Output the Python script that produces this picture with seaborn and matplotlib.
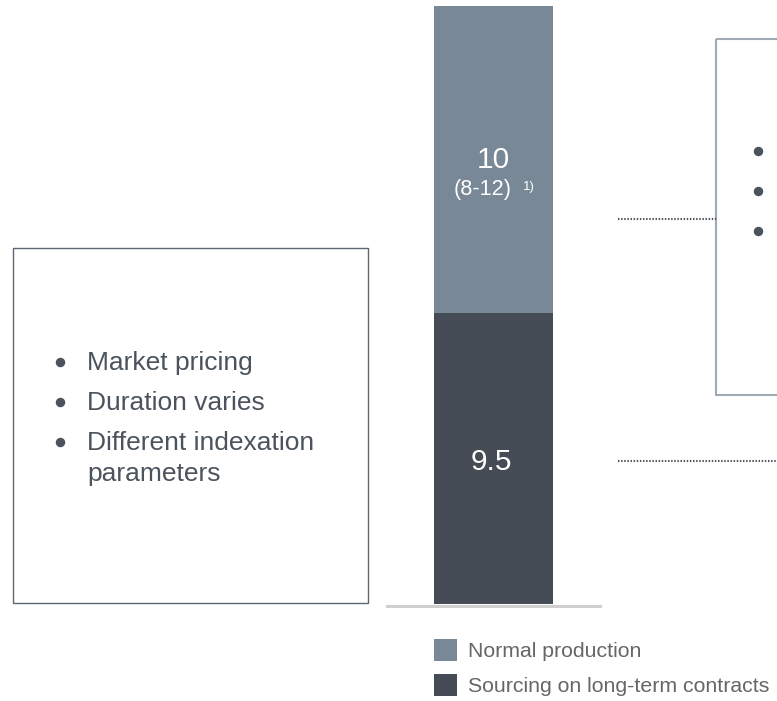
import matplotlib
matplotlib.use("Agg")
import matplotlib.pyplot as plt
import seaborn as sns
import pandas as pd
from matplotlib.patches import Rectangle, Patch

# data
categories = ["Supply"]
long_term = [9.5]
normal_prod = [10.0]
labels_top = ["10", "(8-12)", "1)"]
label_bottom = "9.5"
series_names = ["Normal production", "Sourcing on long-term contracts"]
left_bullets = ["Market pricing", "Duration varies", "Different indexation", "parameters"]

light = "#788896"
dark = "#454c55"
text_dark = "#4b535c"

sns.set_theme(style="white")
plt.rcParams["font.family"] = ["Liberation Sans", "DejaVu Sans"]

W, H = 777, 701
fig = plt.figure(figsize=(W / 100, H / 100), dpi=100)

# overlay in pixel coordinates for the side boxes
ov = fig.add_axes([0, 0, 1, 1])
ov.set_xlim(0, W)
ov.set_ylim(H, 0)
ov.axis("off")

# main bar axes
ax = fig.add_axes([387 / W, (H - 604) / H, 213 / W, 598 / H])
df = pd.DataFrame({"cat": categories,
                   "total": [a + b for a, b in zip(long_term, normal_prod)],
                   "bottom": long_term})
sns.barplot(data=df, x="cat", y="total", color=light, saturation=1,
            width=0.8, errorbar=None, linewidth=0, ax=ax)
sns.barplot(data=df, x="cat", y="bottom", color=dark, saturation=1,
            width=0.8, errorbar=None, linewidth=0, ax=ax)
ax.set_xlim(-0.716, 0.716)
ax.set_ylim(0, df["total"][0])
ax.set_xlabel("")
ax.set_ylabel("")
ax.set_xticks([])
ax.set_yticks([])
for s in ["top", "left", "right"]:
    ax.spines[s].set_visible(False)
ax.spines["bottom"].set_color("#d0d0d0")
ax.spines["bottom"].set_linewidth(2.2)
ax.spines["bottom"].set_position(("outward", 1.1))
ax.patch.set_alpha(0)

mid_top = long_term[0] + normal_prod[0] / 2
mid_bot = long_term[0] / 2
ax.annotate(labels_top[0], (0, mid_top), xytext=(0, -9), textcoords="offset pixels",
            ha="center", va="baseline", color="white", fontsize=21.4)
ax.annotate(labels_top[1], (0, mid_top), xytext=(-10.5, -36), textcoords="offset pixels",
            ha="center", va="baseline", color="white", fontsize=15.6)
ax.annotate(labels_top[2], (0, mid_top), xytext=(29.5, -31), textcoords="offset pixels",
            ha="left", va="baseline", color="white", fontsize=9.5)
ax.annotate(label_bottom, (0, mid_bot), xytext=(-2, -12), textcoords="offset pixels",
            ha="center", va="baseline", color="white", fontsize=21.4)

# left box
ov.add_patch(Rectangle((13, 248), 355, 355, fill=False, edgecolor="#5f6870", lw=1.0))
for i, (txt, yb) in enumerate(zip(left_bullets, [370, 410, 450, 481])):
    if i < 3:
        ov.plot(60, yb - 8, "o", ms=5.8, color=text_dark)
    ov.text(87, yb, txt, ha="left", va="baseline", color=text_dark, fontsize=19)

# right box (cut by the figure edge)
ov.add_patch(Rectangle((716, 39), 100, 356, fill=False, edgecolor="#a0aab4", lw=1.5,
                       clip_on=False))
for yc in [151, 191, 231]:
    ov.plot(758, yc, "o", ms=5.8, color=text_dark)

# dotted connectors
ov.plot([618, 716], [219, 219], color=text_dark, lw=1.5, linestyle=(0, (0.7, 0.8)))
ov.plot([618, 777], [461, 461], color=text_dark, lw=1.5, linestyle=(0, (0.7, 0.8)))

handles = [Patch(facecolor=light, edgecolor="none"), Patch(facecolor=dark, edgecolor="none")]
fig.legend(handles, series_names, loc="upper left", bbox_to_anchor=(434 / W, 1 - 639 / H),
           frameon=False, fontsize=15.3, handlelength=1.1, handleheight=1.2,
           handletextpad=0.5, labelspacing=0.62, borderpad=0, borderaxespad=0,
           labelcolor="#666666")

fig.savefig("out.png", dpi=100)
